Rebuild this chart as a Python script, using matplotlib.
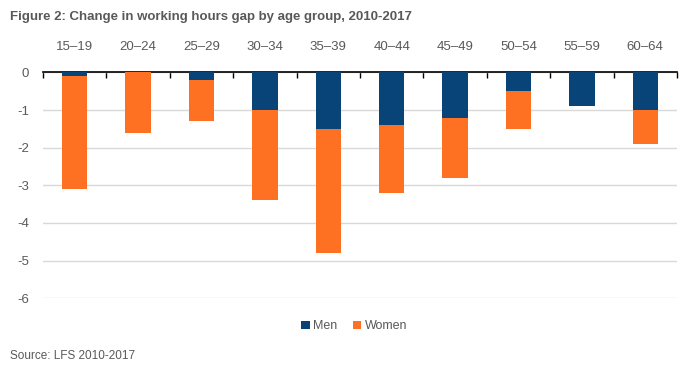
import matplotlib
matplotlib.use('Agg')
import matplotlib.pyplot as plt
import numpy as np

plt.rcParams['font.family'] = ['Liberation Sans', 'DejaVu Sans']
plt.rcParams['axes.unicode_minus'] = False

age_groups = ['15–19', '20–24', '25–29', '30–34', '35–39',
              '40–44', '45–49', '50–54', '55–59', '60–64']
men = [-0.1, 0.0, -0.2, -1.0, -1.5, -1.4, -1.2, -0.5, -0.9, -1.0]
women = [-3.0, -1.6, -1.1, -2.4, -3.3, -1.8, -1.6, -1.0, 0.0, -0.9]

men_color = '#084477'
women_color = '#ff7122'
text_color = '#595959'

fig = plt.figure(figsize=(6.88, 3.71), dpi=100)
ax = fig.add_axes([0.0625, 0.196, 0.9215, 0.609])

x = np.arange(len(age_groups))
ax.bar(x, men, width=0.4, color=men_color, label='Men', zorder=3)
ax.bar(x, women, width=0.4, bottom=men, color=women_color, label='Women', zorder=3)

ax.set_xlim(-0.5, len(age_groups) - 0.5)
ax.set_ylim(-6, 0)
ax.set_yticks(range(-6, 1))
ax.yaxis.grid(True, color='#d9d9d9', linewidth=1, zorder=0)
ax.set_axisbelow(True)

ax.xaxis.tick_top()
ax.set_xticks(x)
ax.set_xticklabels(age_groups)
ax.set_xticks(np.arange(-0.5, len(age_groups)), minor=True)
ax.tick_params(axis='x', which='major', length=0, pad=14, labelsize=9.5, labelcolor=text_color)
ax.tick_params(axis='x', which='minor', direction='in', length=4, width=1, color='black')
ax.tick_params(axis='y', length=0, pad=10, labelsize=9.5, labelcolor=text_color)

for side in ['left', 'right', 'bottom']:
    ax.spines[side].set_visible(False)
ax.spines['top'].set_color('black')
ax.spines['top'].set_linewidth(1.2)

fig.text(0.015, 0.955, 'Figure 2: Change in working hours gap by age group, 2010-2017',
         fontsize=9.5, fontweight='bold', color=text_color, va='center')
fig.legend(loc='center', bbox_to_anchor=(0.515, 0.12), ncol=2, frameon=False,
           fontsize=9, labelcolor=text_color, handlelength=0.7, handleheight=0.7,
           handletextpad=0.3, columnspacing=1.2)
fig.text(0.015, 0.04, 'Source: LFS 2010-2017', fontsize=8.5, color=text_color, va='center')

fig.savefig('out.png', dpi=100)
